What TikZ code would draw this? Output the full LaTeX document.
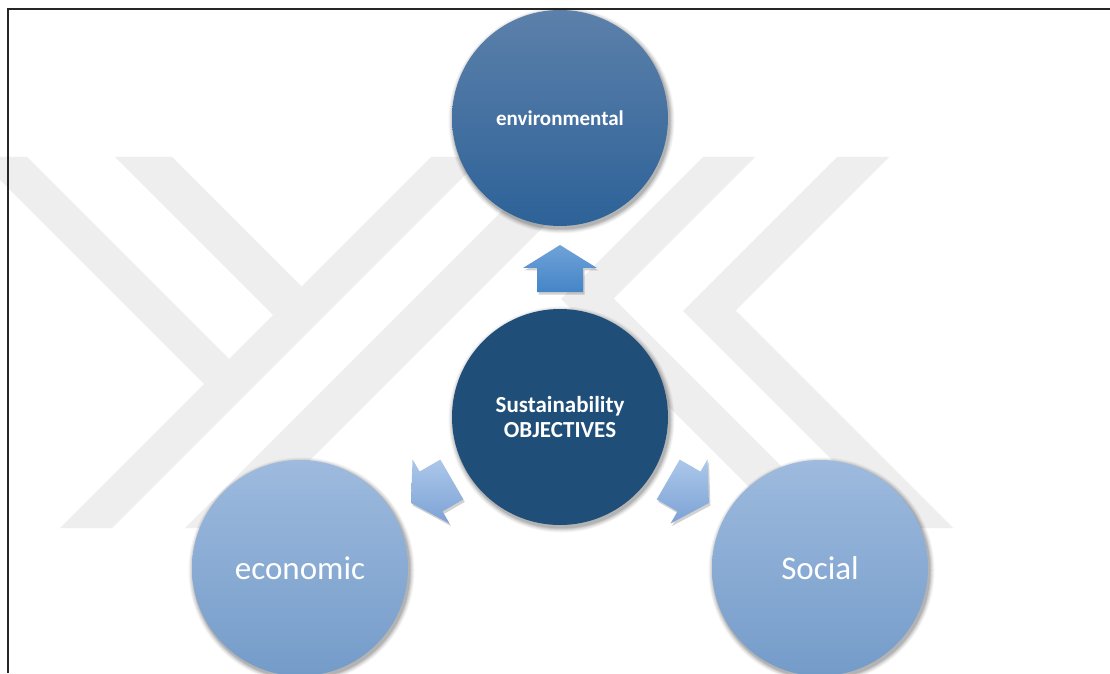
\documentclass[tikz,border=0pt]{standalone}
\usepackage{fontspec}
\setmainfont{Carlito}
\usetikzlibrary{calc}
\definecolor{wm}{RGB}{238,238,238}
\definecolor{envtop}{RGB}{92,128,170}
\definecolor{envbot}{RGB}{45,98,152}
\definecolor{navy}{RGB}{31,78,121}
\definecolor{lighttop}{RGB}{158,186,222}
\definecolor{lightbot}{RGB}{116,156,201}
\definecolor{uptop}{RGB}{112,162,216}
\definecolor{upbot}{RGB}{68,133,200}
\definecolor{sidetop}{RGB}{172,199,234}
\definecolor{sidebot}{RGB}{124,162,212}
\tikzset{
  bubble/.style={circle, minimum size=216pt, inner sep=0pt, outer sep=0pt, text=white, align=center},
  wmark/.style={fill=wm},
  framestyle/.style={line width=2pt, black!85},
}
\newcommand\circshadow[1]{%
  \foreach \k/\o in {5/0.04,4/0.05,3/0.06,2/0.08,1/0.10}
    \fill[black, opacity=\o] ($(#1)+(1.5,-2.5)$) circle ({108+\k});
}
\newcommand\radarrow[4]{%
  \fill[black, opacity=0.18]
    ($(#1)+(1.5,-2.5)+(#2:23)$) -- ($(#1)+(1.5,-2.5)+(#2+90:37)$) -- ($(#1)+(1.5,-2.5)+(#2+90:23)$)
    -- ($(#1)+(1.5,-2.5)+(#2+90:23)+(#2+180:24)$) -- ($(#1)+(1.5,-2.5)+(#2-90:23)+(#2+180:24)$)
    -- ($(#1)+(1.5,-2.5)+(#2-90:23)$) -- ($(#1)+(1.5,-2.5)+(#2-90:37)$) -- cycle;
  \shade[top color=#3, bottom color=#4]
    ($(#1)+(#2:23)$) -- ($(#1)+(#2+90:37)$) -- ($(#1)+(#2+90:23)$)
    -- ($(#1)+(#2+90:23)+(#2+180:24)$) -- ($(#1)+(#2-90:23)+(#2+180:24)$)
    -- ($(#1)+(#2-90:23)$) -- ($(#1)+(#2-90:37)$) -- cycle;
}
\begin{document}
\begin{tikzpicture}[x=1pt,y=1pt]
\useasboundingbox (0,0) rectangle (1110,673);
\fill[white] (0,0) rectangle (1110,673);
% watermark
\begin{scope}
\clip (0,0) rectangle (1110,673);
\fill[wmark] (-23,516) -- (27,516) -- (229,314) -- (204,289) -- (-23,516) -- cycle;
\fill[wmark] (115,516) -- (172,516) -- (301.5,386.5) -- (273,358) -- cycle;
\fill[wmark] (431,516) -- (483,516) -- (112,145) -- (60,145) -- cycle;
\fill[wmark] (556,516) -- (613,516) -- (242,145) -- (185,145) -- cycle;
\fill[wmark] (703,516) -- (755,516) -- (613.5,374.5) -- (843,145) -- (790,145) -- (561,374) -- cycle;
\fill[wmark] (837,516) -- (889,516) -- (735.5,362.5) -- (953,145) -- (900,145) -- (683,362) -- cycle;
\end{scope}
% frame
\draw[framestyle] (8,0) -- (8,664) -- (1110,664);
% coordinates
\coordinate (cen) at (560,256);
\coordinate (envc) at (560,555);
\coordinate (ecoc) at (300,105);
\coordinate (socc) at (820,105);
\coordinate (aup) at (560,405);
\coordinate (aleft) at (431,181.5);
\coordinate (aright) at (689,181.5);
% shadows
\circshadow{envc}
\circshadow{cen}
\circshadow{ecoc}
\circshadow{socc}
% circles
\node[bubble, top color=envtop, bottom color=envbot,
      font=\fontsize{21}{25}\selectfont\bfseries] (env) at (envc) {environmental};
\node[bubble, fill=navy,
      font=\fontsize{23}{25.6}\selectfont\bfseries] (sus) at (cen) {Sustainability\\OBJECTIVES};
\node[bubble, top color=lighttop, bottom color=lightbot,
      font=\fontsize{33}{38}\selectfont] (eco) at (ecoc) {economic};
\node[bubble, top color=lighttop, bottom color=lightbot,
      font=\fontsize{33}{38}\selectfont] (soc) at (socc) {Social};
% arrows
\radarrow{aup}{90}{uptop}{upbot}
\radarrow{aleft}{210}{sidetop}{sidebot}
\radarrow{aright}{330}{sidetop}{sidebot}
\end{tikzpicture}
\end{document}
